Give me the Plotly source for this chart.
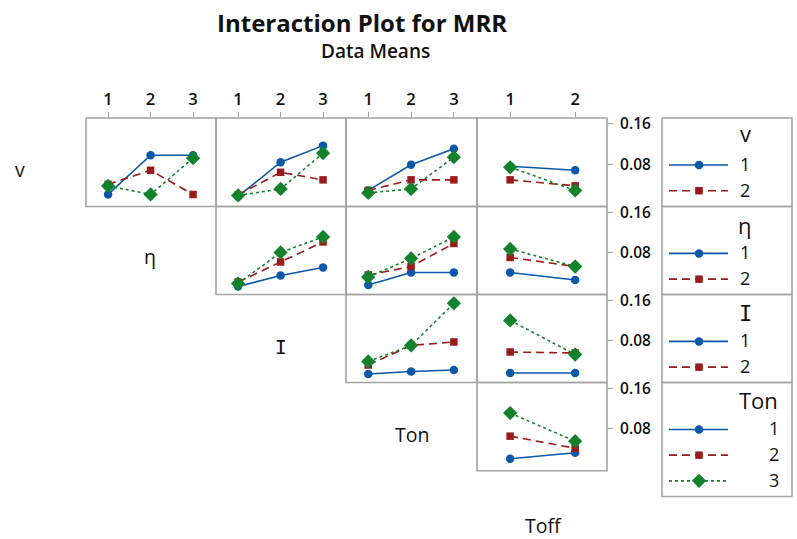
import plotly.graph_objects as go

W, H = 797, 539

# ---------------- data (means of MRR) ----------------
row_factors = ["v", "η", "I", "Ton"]
col_factors = ["η", "I", "Ton", "Toff"]
col_levels = [[1, 2, 3], [1, 2, 3], [1, 2, 3], [1, 2]]
legend_levels = [["1", "2"], ["1", "2"], ["1", "2"], ["1", "2", "3"]]
y_ticks = [0.08, 0.16]
y_tick_text = ["0.08", "0.16"]

# series order in each panel: level 1 (blue), level 2 (red), level 3 (green)
v_by_eta = [[0.020, 0.098, 0.098], [0.040, 0.068, 0.020], [0.037, 0.020, 0.092]]
v_by_I = [[0.016, 0.084, 0.117], [0.019, 0.064, 0.049], [0.018, 0.031, 0.102]]
v_by_Ton = [[0.028, 0.079, 0.111], [0.028, 0.049, 0.049], [0.023, 0.031, 0.094]]
v_by_Toff = [[0.076, 0.068], [0.049, 0.037], [0.074, 0.028]]
eta_by_I = [[0.012, 0.034, 0.050], [0.021, 0.061, 0.101], [0.018, 0.080, 0.111]]
eta_by_Ton = [[0.015, 0.040, 0.040], [0.035, 0.052, 0.098], [0.031, 0.068, 0.111]]
eta_by_Toff = [[0.040, 0.025], [0.070, 0.052], [0.087, 0.052]]
I_by_Ton = [[0.013, 0.018, 0.021], [0.031, 0.070, 0.077], [0.038, 0.070, 0.154]]
I_by_Toff = [[0.015, 0.015], [0.057, 0.055], [0.120, 0.052]]
Ton_by_Toff = [[0.020, 0.032], [0.065, 0.041], [0.111, 0.055]]

panels = {
    (0, 0): v_by_eta, (0, 1): v_by_I, (0, 2): v_by_Ton, (0, 3): v_by_Toff,
    (1, 1): eta_by_I, (1, 2): eta_by_Ton, (1, 3): eta_by_Toff,
    (2, 2): I_by_Ton, (2, 3): I_by_Toff,
    (3, 3): Ton_by_Toff,
}

# ---------------- styling ----------------
styles = [
    dict(color="#0B57AA", dash="solid", symbol="circle", size=8.5),
    dict(color="#9A1A1A", dash="8px,5px", symbol="square", size=7.5),
    dict(color="#12822C", dash="3px,3px", symbol="diamond", size=11),
]
FRAME = "#A3A3A3"
TXT = "#111111"
FONT = "Open Sans"
SERIF_I = "DejaVu Sans Mono"

col_px = [86, 216, 346, 477, 607]
row_px = [113.3, 202.7, 291.7, 380.7, 470]
y_range = [-0.0038, 0.1718]
x_ranges = [[0.48, 3.54], [0.48, 3.54], [0.48, 3.54], [0.49, 2.49]]


def px(x):
    return x / W


def py(y):
    return 1 - y / H


def fam(label):
    return SERIF_I if label == "I" else FONT


fig = go.Figure()
layout = dict(
    width=W, height=H,
    margin=dict(l=0, r=0, t=0, b=0),
    paper_bgcolor="white", plot_bgcolor="rgba(0,0,0,0)",
    showlegend=False,
    font=dict(family=FONT, color=TXT),
)
shapes = []
annotations = []

idx = 0
for (r, c), series in panels.items():
    idx += 1
    xa = "xaxis" if idx == 1 else f"xaxis{idx}"
    ya = "yaxis" if idx == 1 else f"yaxis{idx}"
    xref = "x" if idx == 1 else f"x{idx}"
    yref = "y" if idx == 1 else f"y{idx}"
    top_row = (r == 0)
    last_col = (c == 3)
    layout[xa] = dict(
        domain=[px(col_px[c]), px(col_px[c + 1])],
        range=x_ranges[c], anchor=yref,
        side="top",
        showline=False,
        showgrid=False, zeroline=False,
        tickvals=col_levels[c] if top_row else [],
        ticktext=[str(v) for v in col_levels[c]] if top_row else [],
        ticks="outside" if top_row else "", ticklen=5, tickcolor=FRAME, tickwidth=1.3,
        showticklabels=top_row,
        tickfont=dict(size=16.5, color=TXT, family=FONT, weight=600),
        ticklabelstandoff=0,
        fixedrange=True,
    )
    layout[ya] = dict(
        domain=[py(row_px[r + 1]), py(row_px[r])],
        range=y_range, anchor=xref,
        side="right",
        showline=False,
        showgrid=False, zeroline=False,
        tickvals=y_ticks if last_col else [],
        ticktext=y_tick_text if last_col else [],
        ticks="outside" if last_col else "", ticklen=5, tickcolor=FRAME, tickwidth=1.3,
        showticklabels=last_col,
        tickfont=dict(size=15.5, color=TXT, family=FONT, weight=600),
        ticklabelstandoff=4,
        fixedrange=True,
    )
    shapes.append(dict(type="rect", xref="paper", yref="paper",
                       x0=px(col_px[c]), x1=px(col_px[c + 1]),
                       y0=py(row_px[r + 1]), y1=py(row_px[r]),
                       line=dict(color=FRAME, width=1.6), fillcolor="rgba(0,0,0,0)",
                       layer="below"))
    for s, yvals in enumerate(series):
        st = styles[s]
        fig.add_trace(go.Scatter(
            x=col_levels[c][:len(yvals)], y=yvals, xaxis=xref, yaxis=yref,
            mode="lines+markers",
            line=dict(color=st["color"], dash=st["dash"], width=1.6),
            marker=dict(color=st["color"], symbol=st["symbol"], size=st["size"]),
            hoverinfo="skip", cliponaxis=False,
        ))

# ---------------- legend boxes (overlay axis in pixel units) ----------------
idx += 1
LX, LY = f"x{idx}", f"y{idx}"
layout[f"xaxis{idx}"] = dict(domain=[0, 1], range=[0, W], visible=False, anchor=LY, fixedrange=True)
layout[f"yaxis{idx}"] = dict(domain=[0, 1], range=[H, 0], visible=False, anchor=LX, fixedrange=True)

leg_x0, leg_x1 = 662, 792
leg_bottoms = [row_px[1], row_px[2], row_px[3], 496]
title_dy = [15, 19, 19, 18]
for r, name in enumerate(row_factors):
    top = row_px[r]
    bottom = leg_bottoms[r]
    shapes.append(dict(type="rect", xref="paper", yref="paper",
                       x0=px(leg_x0), x1=px(leg_x1), y0=py(bottom), y1=py(top),
                       line=dict(color=FRAME, width=1.6), fillcolor="rgba(0,0,0,0)", layer="below"))
    is_ton = (name == "Ton")
    title_x = 758 if is_ton else 745
    num_x = 774 if is_ton else 745
    annotations.append(dict(text=name, x=px(title_x), y=py(top + title_dy[r]), xref="paper", yref="paper",
                            showarrow=False, xanchor="center", yanchor="middle",
                            font=dict(size=22, color=TXT, family=fam(name), weight=500)))
    for k, lab in enumerate(legend_levels[r]):
        yy = top + 47.5 + 26 * k
        st = styles[k]
        fig.add_trace(go.Scatter(
            x=[669, 699, 728], y=[yy, yy, yy], xaxis=LX, yaxis=LY,
            mode="lines", line=dict(color=st["color"], dash=st["dash"], width=1.6),
            hoverinfo="skip"))
        fig.add_trace(go.Scatter(
            x=[699], y=[yy], xaxis=LX, yaxis=LY, mode="markers",
            marker=dict(color=st["color"], symbol=st["symbol"], size=st["size"]),
            hoverinfo="skip"))
        annotations.append(dict(text=lab, x=px(num_x), y=py(yy - 1), xref="paper", yref="paper",
                                showarrow=False, xanchor="center", yanchor="middle",
                                font=dict(size=18, color=TXT, family=FONT, weight=500)))

# ---------------- diagonal factor labels ----------------
diag_labels = ["v", "η", "I", "Ton", "Toff"]
diag_pos = [(20, 165), (150, 253), (281, 345), (412, 433), (543, 525)]
for lab, (x, y) in zip(diag_labels, diag_pos):
    annotations.append(dict(text=lab, x=px(x), y=py(y), xref="paper", yref="paper",
                            showarrow=False, xanchor="center", yanchor="middle",
                            font=dict(size=19.5, color=TXT, family=fam(lab), weight=500)))

# ---------------- titles ----------------
annotations.append(dict(text="Interaction Plot for MRR", x=px(362), y=py(17),
                        xref="paper", yref="paper", showarrow=False,
                        xanchor="center", yanchor="middle",
                        font=dict(size=24, color=TXT, family=FONT, weight=700)))
annotations.append(dict(text="Data Means", x=px(375), y=py(46),
                        xref="paper", yref="paper", showarrow=False,
                        xanchor="center", yanchor="middle",
                        font=dict(size=19, color=TXT, family=FONT, weight=600)))

layout["shapes"] = shapes
layout["annotations"] = annotations
fig.update_layout(**layout)
fig.write_html("out.html", config={"displayModeBar": False},
               post_script="document.body.style.margin='0';document.body.style.overflow='hidden';")
